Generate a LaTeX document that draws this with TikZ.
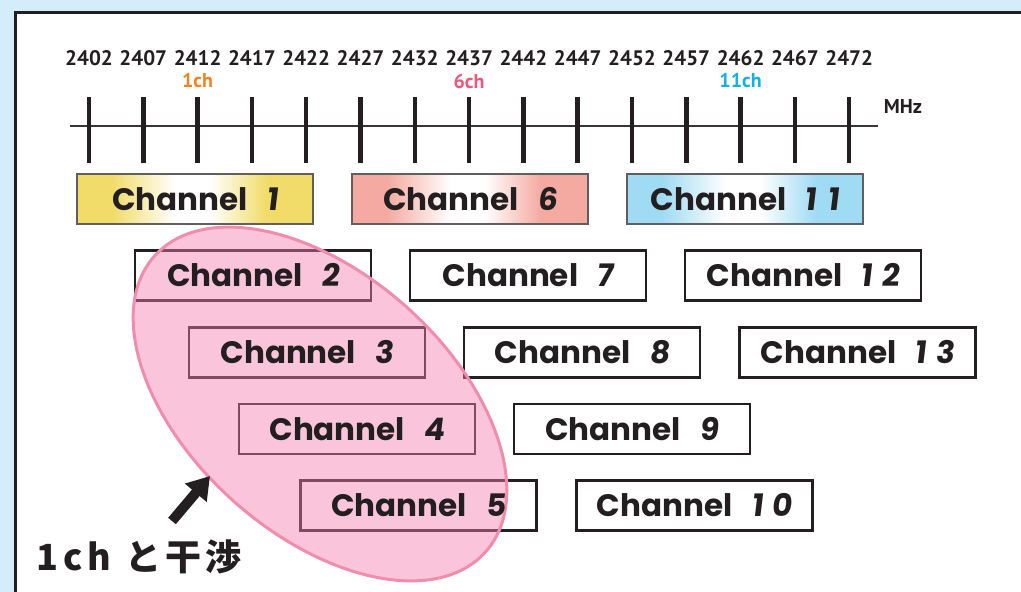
\documentclass[tikz,border=0pt]{standalone}
\usepackage{fontspec}
\setmainfont{Poppins}
\newfontfamily\chfont{Poppins}
\newfontfamily\chnum{Poppins}[FakeSlant=0.12,BoldFeatures={FakeSlant=0.12}]
\newfontfamily\freqfont{PT Sans}
\newfontfamily\jpfont{Noto Sans CJK JP}
\usetikzlibrary{arrows.meta}
\definecolor{bgblue}{RGB}{211,238,250}
\definecolor{ink}{RGB}{35,31,32}
\definecolor{yel}{RGB}{241,220,106}
\definecolor{sal}{RGB}{244,170,160}
\definecolor{sky}{RGB}{160,219,244}
\definecolor{cone}{RGB}{245,130,32}
\definecolor{csix}{RGB}{238,88,124}
\definecolor{celeven}{RGB}{20,176,232}
\definecolor{blobfill}{RGB}{245,128,177}
\definecolor{blobline}{RGB}{241,140,170}
\definecolor{framegray}{RGB}{95,95,95}
\pgfdeclarehorizontalshading{yelsh}{100bp}{color(0bp)=(yel); color(32.5bp)=(yel); color(46bp)=(white); color(53bp)=(white); color(65bp)=(yel); color(100bp)=(yel)}
\pgfdeclarehorizontalshading{salsh}{100bp}{color(0bp)=(sal); color(32.5bp)=(sal); color(46bp)=(white); color(53bp)=(white); color(65bp)=(sal); color(100bp)=(sal)}
\pgfdeclarehorizontalshading{skysh}{100bp}{color(0bp)=(sky); color(32.5bp)=(sky); color(46bp)=(white); color(53bp)=(white); color(65bp)=(sky); color(100bp)=(sky)}
\pgfdeclarelayer{frames}
\pgfdeclarelayer{blob}
\pgfsetlayers{frames,blob,main}
\newcommand\chn[1]{Channel\hspace{0.6em}{\chnum\bfseries #1}}
\tikzset{
  chbox/.style={minimum width=236pt, minimum height=50pt, inner sep=0pt, text=ink,
    font=\chfont\bfseries\fontsize{31}{35}\selectfont},
  wframe/.style={draw=ink, line width=2.5pt},
  gframe/.style={draw=framegray, line width=2.5pt},
  freq/.style={font=\freqfont\bfseries\fontsize{21}{24}\selectfont, text=ink, inner sep=0pt},
  chmark/.style={font=\freqfont\bfseries\fontsize{20}{23}\selectfont, inner sep=0pt},
  tick/.style={draw=ink, line width=4.5pt},
}
\begin{document}
\begin{tikzpicture}[x=1pt,y=-1pt]
\useasboundingbox (0,0) rectangle (1021,592);
\begin{pgfonlayer}{frames}
\fill[bgblue] (0,0) rectangle (1021,592);
\draw[line width=3pt, ink, fill=white] (15,12) rectangle (1040,610);
\end{pgfonlayer}
% axis
\coordinate (axl) at (70,126);
\coordinate (axr) at (878,126);
\draw[line width=2pt, ink!90] (axl) -- (axr);
\foreach \i in {0,...,14}{
  \pgfmathsetmacro\xx{89+54.3*\i}
  \pgfmathtruncatemacro\ff{2402+5*\i}
  \coordinate (t\i a) at (\xx,97);
  \coordinate (t\i b) at (\xx,163);
  \draw[tick] (t\i a) -- (t\i b);
  \node[freq] (f\i) at (\xx,58) {\ff};
}
\node[chmark, text=cone] (m1) at (t2a |- 0,81) {1ch};
\node[chmark, text=csix] (m6) at (t7a |- 0,81) {6ch};
\node[chmark, text=celeven] (m11) at (t12a |- 0,81) {11ch};
\node[font=\freqfont\bfseries\fontsize{20}{23}\selectfont, text=ink, inner sep=0pt] (mhz) at (903,106) {MHz};
% channel boxes
\node[chbox] (c1) at (195,199) {\chn{1}};
\node[chbox] (c6) at (470,199) {\chn{6}};
\node[chbox] (c11) at (745,199) {\chn{1\hspace{11pt}1}};
\node[chbox] (c2) at (253,275.5) {\chn{2}};
\node[chbox] (c7) at (528,275.5) {\chn{7}};
\node[chbox] (c12) at (803,275.5) {\chn{1\hspace{9pt}2}};
\node[chbox] (c3) at (307,352.5) {\chn{3}};
\node[chbox] (c8) at (582,352.5) {\chn{8}};
\node[chbox] (c13) at (857.5,352.5) {\chn{1\hspace{9pt}3}};
\node[chbox] (c4) at (357,429) {\chn{4}};
\node[chbox] (c9) at (632,429) {\chn{9}};
\node[chbox] (c5) at (418.5,505.5) {\chn{5}};
\node[chbox] (c10) at (694.5,505.5) {\chn{1\hspace{9pt}0}};
\begin{pgfonlayer}{frames}
\shade[shading=yelsh] (c1.north west) rectangle (c1.south east);
\shade[shading=salsh] (c6.north west) rectangle (c6.south east);
\shade[shading=skysh] (c11.north west) rectangle (c11.south east);
\foreach \n in {c1,c6,c11}{\draw[gframe] (\n.north west) rectangle (\n.south east);}
\foreach \n in {c2,c3,c4,c5,c7,c8,c9,c10,c12,c13}{\draw[wframe] (\n.north west) rectangle (\n.south east);}
\end{pgfonlayer}
% interference blob
\begin{pgfonlayer}{blob}
\fill[blobfill, fill opacity=0.45, rotate around={-41.8:(320,404)}] (320,404) ellipse [x radius=222pt, y radius=130pt];
\draw[blobline, line width=3pt, rotate around={-41.8:(320,404)}] (320,404) ellipse [x radius=222pt, y radius=130pt];
\end{pgfonlayer}
% arrow and label
\coordinate (tip) at (210,476);
\coordinate (tail) at (172,521);
\draw[ink, line width=10pt, -{Triangle[length=22pt,width=27pt]}] (tail) -- (tip);
\node[font=\jpfont\bfseries\fontsize{36}{40}\selectfont, text=ink, inner sep=0pt, anchor=west] (lbl) at (36,557)
  {1\hspace{5pt}c\hspace{5pt}h\hspace{14pt}と\hspace{4pt}干\hspace{4pt}渉};
\end{tikzpicture}
\end{document}
